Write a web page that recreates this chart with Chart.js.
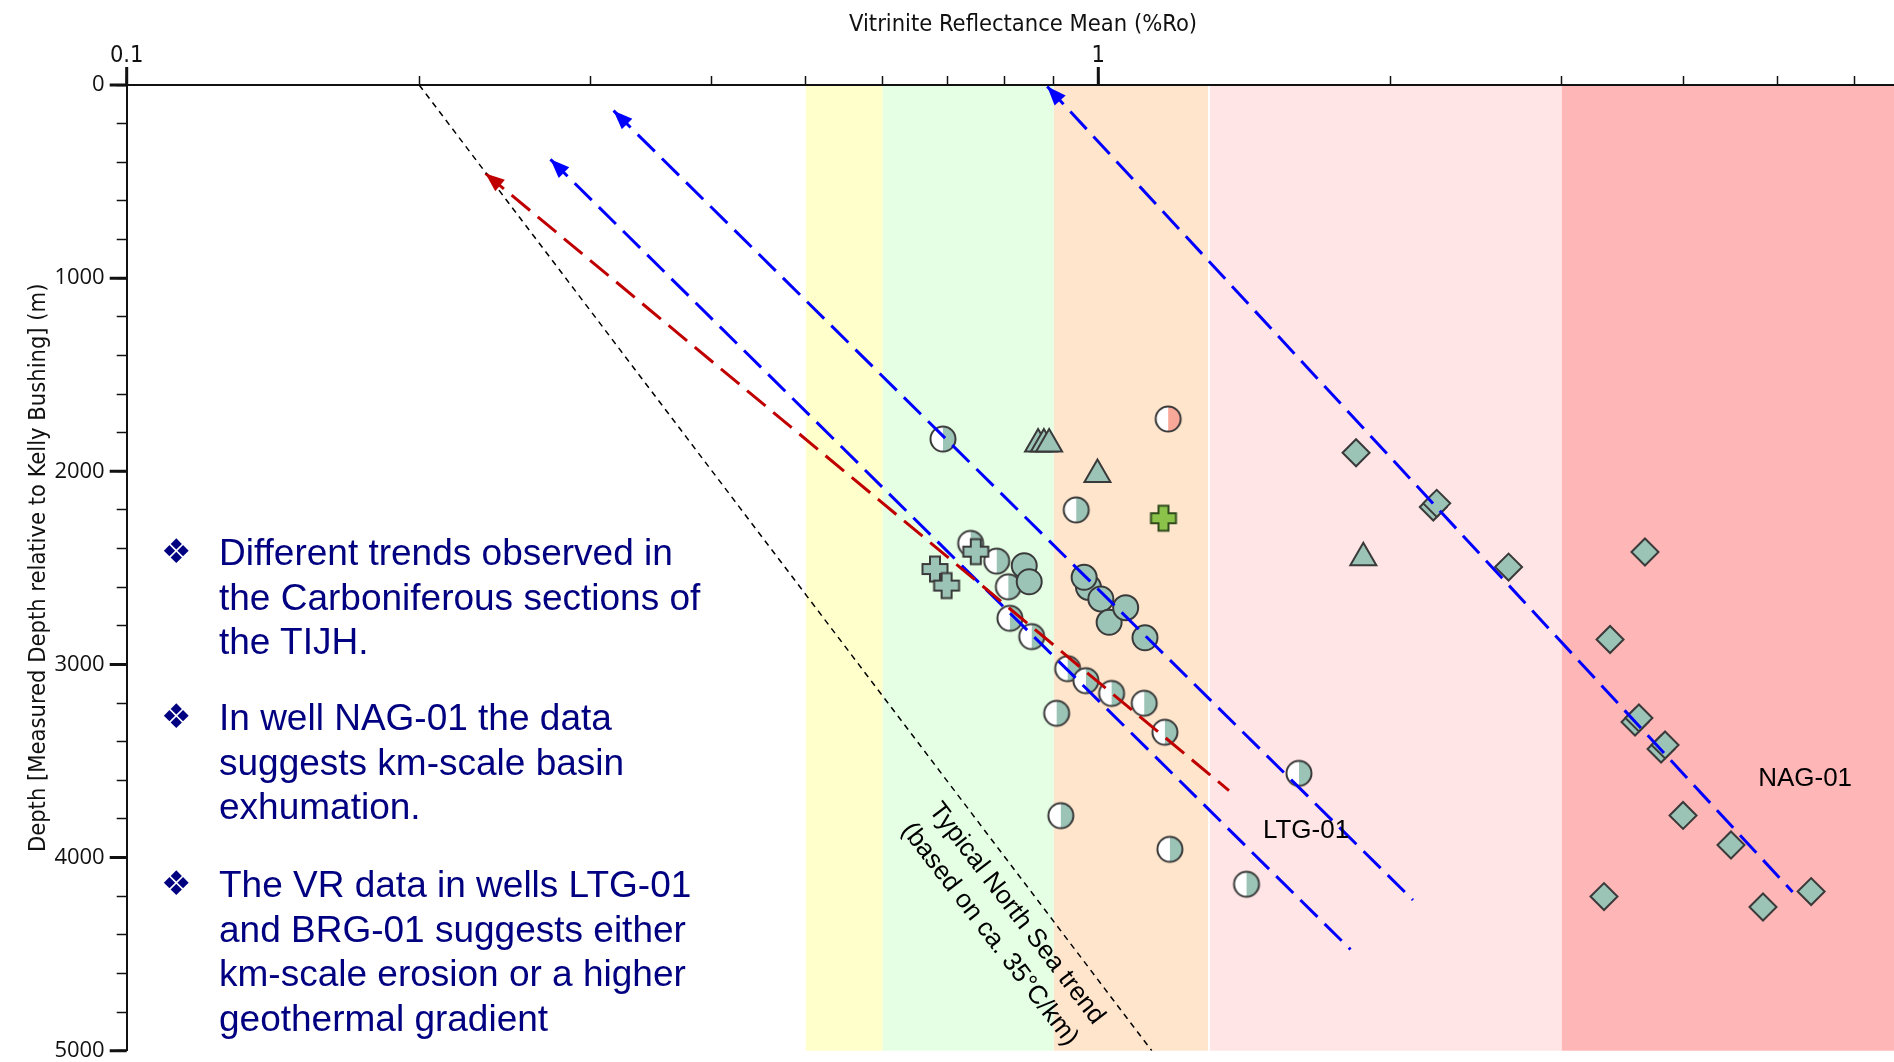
<!DOCTYPE html>
<html>
<head>
<meta charset="utf-8">
<title>Vitrinite reflectance vs depth</title>
<script src="https://cdn.jsdelivr.net/npm/chart.js@4.4.1/dist/chart.umd.min.js"></script>
<style>
  html, body { margin: 0; padding: 0; background: #fff; overflow: hidden; }
  #wrap { position: relative; width: 1894px; height: 1062px; overflow: hidden; }
  #vrChart { position: absolute; left: 0; top: 0; }
  .point { position: absolute; left: 219px; font-family: 'Liberation Sans', Arial, sans-serif;
           font-size: 37px; line-height: 44.5px; color: #000080; white-space: nowrap; }
  .point .mark { position: absolute; left: -58px; top: -2px; font-family: 'DejaVu Sans', sans-serif;
                 font-size: 34px; color: #000080; }
</style>
</head>
<body>
<div id="wrap">
  <canvas id="vrChart" width="1950" height="1080"></canvas>
  <div class="point" style="top:531px"><span class="mark">❖</span>Different trends observed in<br>the Carboniferous sections of<br>the TIJH.</div>
  <div class="point" style="top:696px"><span class="mark">❖</span>In well NAG-01 the data<br>suggests km-scale basin<br>exhumation.</div>
  <div class="point" style="top:863px"><span class="mark">❖</span>The VR data in wells LTG-01<br>and BRG-01 suggests either<br>km-scale erosion or a higher<br>geothermal gradient</div>
</div>
<script>
// axis ticks
const roTicks = [0.1, 0.2, 0.3, 0.4, 0.5, 0.6, 0.7, 0.8, 0.9, 1, 2, 3, 4, 5, 6, 7];
const roLabelled = [0.1, 1];
const depthTicks = [0, 200, 400, 600, 800, 1000, 1200, 1400, 1600, 1800, 2000, 2200, 2400, 2600, 2800,
                    3000, 3200, 3400, 3600, 3800, 4000, 4200, 4400, 4600, 4800, 5000];
const depthLabelled = [0, 1000, 2000, 3000, 4000, 5000];

// maturity zones (%Ro boundaries)
const zoneEdges = [0.5, 0.6, 0.9, 1.3, 3.0, 7];

// VR samples, half-filled circles
const halfRo    = [0.692, 0.949, 0.739, 0.786, 0.808, 0.811, 0.854, 0.930, 0.971, 1.032, 1.115, 1.171, 0.906, 1.609, 0.915, 1.185, 1.421];
const halfDepth = [1833, 2200, 2373, 2465, 2598, 2761, 2856, 3022, 3084, 3150, 3201, 3351, 3253, 3564, 3783, 3957, 4138];

// salmon half circle
const salmonRo = [1.180];
const salmonDepth = [1729];

// filled circles
const fullRo    = [0.839, 0.849, 0.977, 0.967, 1.006, 1.026, 1.067, 1.117];
const fullDepth = [2489, 2572, 2601, 2549, 2661, 2782, 2706, 2862];

// crosses
const crossRo    = [0.748, 0.679, 0.698];
const crossDepth = [2416, 2506, 2592];
const greenCrossRo = [1.167];
const greenCrossDepth = [2243];

// triangles
const triRo    = [0.867, 0.879, 0.890, 0.998, 1.874];
const triDepth = [1859, 1859, 1859, 2017, 2448];

// NAG-01 diamonds
const nagRo    = [1.842, 2.212, 2.230, 2.644, 3.653, 3.363, 3.568, 3.601, 3.795, 3.831, 3.998, 4.479, 5.416, 4.832, 3.315];
const nagDepth = [1904, 2185, 2166, 2496, 2418, 2871, 3298, 3277, 3438, 3417, 3782, 3935, 4176, 4256, 4202];

// trend lines (first point = arrow tip)
const northSeaRo = [0.2, 1.135];
const northSeaDepth = [0, 5000];
const redTrendRo = [0.234, 1.363];
const redTrendDepth = [458, 3653];
const blueTrendARo = [0.273, 1.818];
const blueTrendADepth = [385, 4476];
const blueTrendBRo = [0.317, 2.108];
const blueTrendBDepth = [133, 4220];
const nagTrendRo = [0.886, 5.183];
const nagTrendDepth = [8, 4178];

// text annotations anchored in data space
const notes = [
  { text: 'LTG-01', ro: 1.636, depth: 3862 },
  { text: 'NAG-01', ro: 5.339, depth: 3593 }
];
const trendNote = { lines: ['Typical North Sea trend', '(based on ca. 35°C/km)'], ro: 0.798, depth: 4344 };

const zoneColors = ['#FFFFCC', '#E5FFE5', '#FFE5CC', '#FFE5E5', '#FFB6B6'];
const teal = '#9BC4B6';
const edge = '#3a3a3a';

function pairs(xs, ys) {
  return xs.map((x, i) => ({ x: x, y: ys[i] }));
}

// marker canvases
function halfDot(rightColor) {
  const r = 12.5, s = 30, m = s / 2;
  const c = document.createElement('canvas');
  c.width = c.height = s;
  const g = c.getContext('2d');
  g.fillStyle = '#ffffff';
  g.beginPath(); g.arc(m, m, r, Math.PI / 2, Math.PI * 1.5); g.fill();
  g.fillStyle = rightColor;
  g.beginPath(); g.arc(m, m, r, -Math.PI / 2, Math.PI / 2); g.fill();
  g.lineWidth = 2; g.strokeStyle = edge;
  g.beginPath(); g.arc(m, m, r, 0, Math.PI * 2); g.stroke();
  return c;
}

function plusMark(fill, stroke) {
  const s = 30, m = s / 2, a = 12.5, b = 5;
  const c = document.createElement('canvas');
  c.width = c.height = s;
  const g = c.getContext('2d');
  g.beginPath();
  g.moveTo(m - b, m - a); g.lineTo(m + b, m - a); g.lineTo(m + b, m - b);
  g.lineTo(m + a, m - b); g.lineTo(m + a, m + b); g.lineTo(m + b, m + b);
  g.lineTo(m + b, m + a); g.lineTo(m - b, m + a); g.lineTo(m - b, m + b);
  g.lineTo(m - a, m + b); g.lineTo(m - a, m - b); g.lineTo(m - b, m - b);
  g.closePath();
  g.fillStyle = fill; g.fill();
  g.lineWidth = 2; g.strokeStyle = stroke; g.stroke();
  return c;
}

// coloured maturity bands behind the data
const zoneBands = {
  id: 'zoneBands',
  beforeDatasetsDraw(chart) {
    const { ctx, chartArea, scales } = chart;
    ctx.save();
    for (let i = 0; i < zoneColors.length; i++) {
      const x0 = scales.x.getPixelForValue(zoneEdges[i]);
      const x1 = scales.x.getPixelForValue(zoneEdges[i + 1]);
      ctx.fillStyle = zoneColors[i];
      ctx.fillRect(x0, chartArea.top + 1, x1 - x0, chartArea.bottom - chartArea.top - 1);
    }
    const xs = scales.x.getPixelForValue(1.3);
    ctx.fillStyle = '#ffffff';
    ctx.fillRect(xs - 1, chartArea.top + 1, 2, chartArea.bottom - chartArea.top - 1);
    ctx.restore();
  }
};

// arrow heads on the trend lines
const arrowHeads = {
  id: 'arrowHeads',
  afterDatasetsDraw(chart) {
    const ctx = chart.ctx;
    chart.data.datasets.forEach((ds, i) => {
      if (!ds.arrow) return;
      const pts = chart.getDatasetMeta(i).data;
      const tip = pts[0], tail = pts[1];
      const ang = Math.atan2(tip.y - tail.y, tip.x - tail.x);
      ctx.save();
      ctx.translate(tip.x, tip.y);
      ctx.rotate(ang);
      ctx.fillStyle = ds.borderColor;
      ctx.beginPath();
      ctx.moveTo(0, 0);
      ctx.lineTo(-19, -7.5);
      ctx.lineTo(-19, 7.5);
      ctx.closePath();
      ctx.fill();
      ctx.restore();
    });
  }
};

// longer, heavier ticks at labelled values
const majorTicks = {
  id: 'majorTicks',
  afterDraw(chart) {
    const { ctx, chartArea, scales } = chart;
    ctx.save();
    ctx.strokeStyle = '#111';
    ctx.lineWidth = 3;
    ctx.beginPath();
    roLabelled.forEach(v => {
      const px = scales.x.getPixelForValue(v);
      ctx.moveTo(px, chartArea.top);
      ctx.lineTo(px, chartArea.top - 18);
    });
    depthLabelled.forEach(v => {
      const py = scales.y.getPixelForValue(v);
      ctx.moveTo(chartArea.left, py);
      ctx.lineTo(chartArea.left - 17, py);
    });
    ctx.stroke();
    ctx.restore();
  }
};

// well names and the rotated trend caption
const annotations = {
  id: 'annotations',
  afterDraw(chart) {
    const { ctx, scales } = chart;
    ctx.save();
    ctx.fillStyle = '#000';
    ctx.font = '26px "Liberation Sans", Arial, sans-serif';
    ctx.textAlign = 'center';
    ctx.textBaseline = 'middle';
    notes.forEach(n => {
      ctx.fillText(n.text, scales.x.getPixelForValue(n.ro), scales.y.getPixelForValue(n.depth));
    });
    ctx.translate(scales.x.getPixelForValue(trendNote.ro), scales.y.getPixelForValue(trendNote.depth));
    ctx.rotate(52.5 * Math.PI / 180);
    ctx.fillText(trendNote.lines[0], 0, -17);
    ctx.fillText(trendNote.lines[1], 0, 17);
    ctx.restore();
  }
};

const axisFont = { family: '"DejaVu Sans Condensed", "DejaVu Sans", sans-serif', size: 23.5 };

new Chart(document.getElementById('vrChart'), {
  type: 'scatter',
  data: {
    datasets: [
      { label: 'North Sea trend', data: pairs(northSeaRo, northSeaDepth), showLine: true, pointRadius: 0,
        borderColor: '#000', borderWidth: 1.5, borderDash: [6, 5], order: 0 },
      { label: 'Trend red', data: pairs(redTrendRo, redTrendDepth), showLine: true, pointRadius: 0,
        borderColor: '#C00000', borderWidth: 3, borderDash: [24, 10], order: 0, arrow: true },
      { label: 'Trend A', data: pairs(blueTrendARo, blueTrendADepth), showLine: true, pointRadius: 0,
        borderColor: '#0000FF', borderWidth: 3, borderDash: [24, 10], order: 0, arrow: true },
      { label: 'Trend B', data: pairs(blueTrendBRo, blueTrendBDepth), showLine: true, pointRadius: 0,
        borderColor: '#0000FF', borderWidth: 3, borderDash: [24, 10], order: 0, arrow: true },
      { label: 'NAG-01 trend', data: pairs(nagTrendRo, nagTrendDepth), showLine: true, pointRadius: 0,
        borderColor: '#0000FF', borderWidth: 3, borderDash: [24, 10], order: 0, arrow: true },
      { label: 'Crosses', data: pairs(crossRo, crossDepth), pointStyle: plusMark(teal, edge), pointRadius: 13, order: 2 },
      { label: 'Green cross', data: pairs(greenCrossRo, greenCrossDepth), pointStyle: plusMark('#8BC34A', '#2f4a1c'), pointRadius: 13, order: 2 },
      { label: 'Triangles', data: pairs(triRo, triDepth), pointStyle: 'triangle', pointRadius: 15,
        backgroundColor: teal, borderColor: edge, borderWidth: 2, order: 2 },
      { label: 'NAG-01', data: pairs(nagRo, nagDepth), pointStyle: 'rectRot', pointRadius: 13.5,
        backgroundColor: teal, borderColor: edge, borderWidth: 2, order: 2 },
      { label: 'Full circles', data: pairs(fullRo, fullDepth), pointStyle: 'circle', pointRadius: 12.5,
        backgroundColor: teal, borderColor: edge, borderWidth: 2, order: 3 },
      { label: 'Half circles', data: pairs(halfRo, halfDepth), pointStyle: halfDot(teal), pointRadius: 13, order: 4 },
      { label: 'Salmon', data: pairs(salmonRo, salmonDepth), pointStyle: halfDot('#F8A898'), pointRadius: 13, order: 4 }
    ]
  },
  options: {
    responsive: false,
    animation: false,
    layout: { padding: { left: 0, top: 0, right: 30.6, bottom: 29.3 } },
    plugins: { legend: { display: false }, tooltip: { enabled: false } },
    scales: {
      x: {
        type: 'logarithmic',
        position: 'top',
        min: 0.1,
        max: 7,
        afterBuildTicks: s => { s.ticks = roTicks.map(v => ({ value: v, major: roLabelled.includes(v) })); },
        afterFit: s => { s.height = 85; },
        ticks: {
          autoSkip: false, maxRotation: 0, padding: 6.5, color: '#111', font: axisFont,
          callback: v => roLabelled.includes(v) ? String(v) : ''
        },
        grid: { drawOnChartArea: false, tickLength: 9, tickColor: '#111', tickWidth: 1.5 },
        border: { color: '#111', width: 2 },
        title: { display: true, text: 'Vitrinite Reflectance Mean (%Ro)', color: '#111', font: axisFont,
                 padding: { top: 10.5, bottom: 0 } }
      },
      y: {
        type: 'linear',
        reverse: true,
        min: 0,
        max: 5000,
        afterBuildTicks: s => { s.ticks = depthTicks.map(v => ({ value: v, major: depthLabelled.includes(v) })); },
        afterFit: s => { s.width = 126.7; },
        ticks: {
          autoSkip: false, padding: 12, color: '#111',
          font: { family: '"Open Sans", sans-serif', size: 22 },
          callback: v => depthLabelled.includes(v) ? String(v) : ''
        },
        grid: { drawOnChartArea: false, tickLength: 10, tickColor: '#111', tickWidth: 1.5 },
        border: { color: '#111', width: 2 },
        title: { display: true, text: 'Depth [Measured Depth relative to Kelly Bushing] (m)', color: '#111',
                 font: axisFont, padding: { top: 25, bottom: 0 } }
      }
    }
  },
  plugins: [zoneBands, arrowHeads, majorTicks, annotations]
});
</script>
</body>
</html>
